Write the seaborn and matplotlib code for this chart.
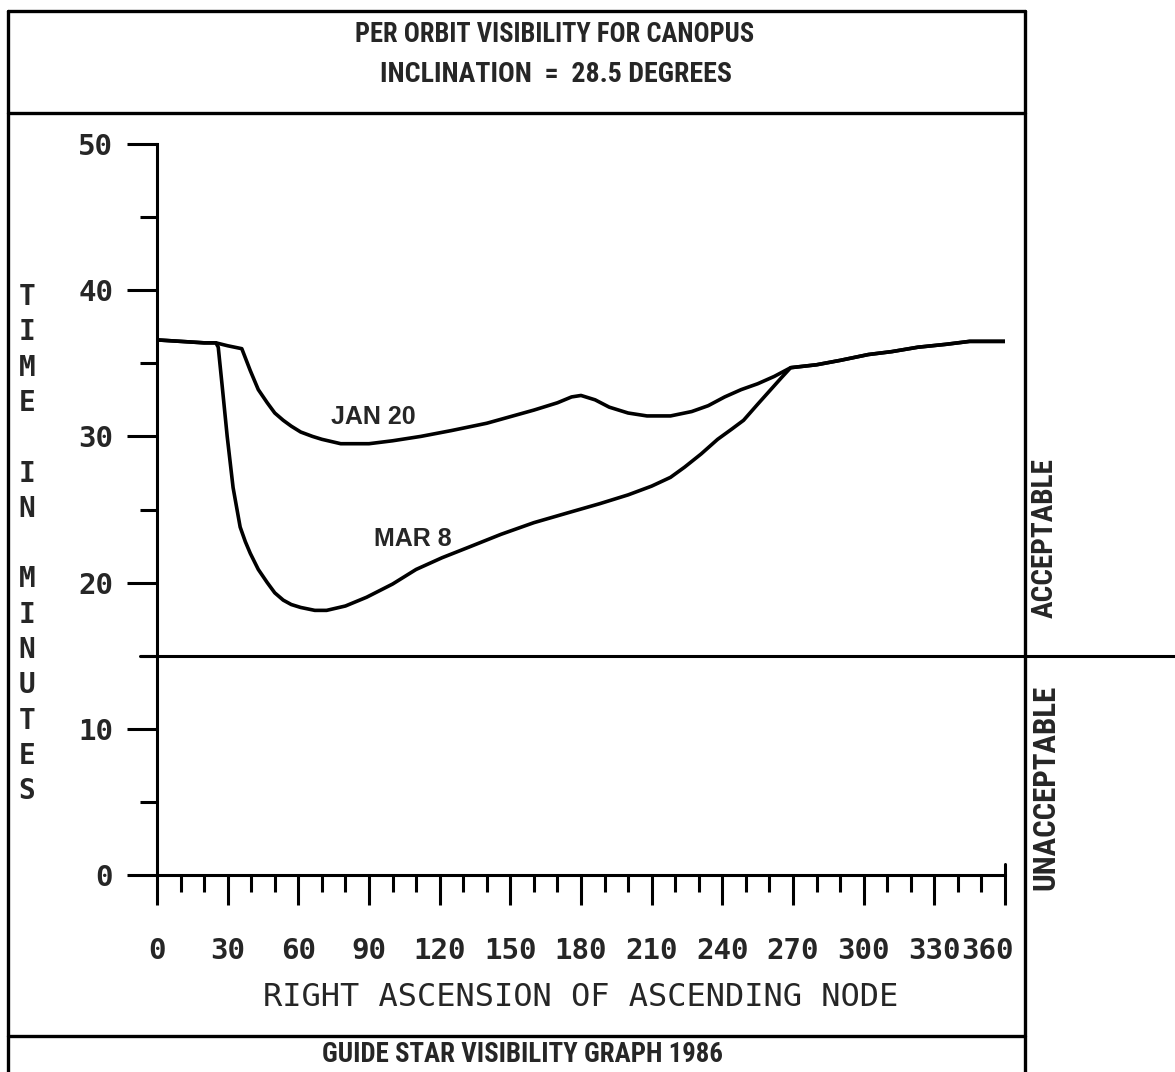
import matplotlib
matplotlib.use('Agg')
import matplotlib.pyplot as plt
import matplotlib.transforms as mtrans
from matplotlib import font_manager
from matplotlib.lines import Line2D
from matplotlib.ticker import MultipleLocator
import seaborn as sns
import pandas as pd

# Curve data (RA of ascending node in degrees, minutes visible)
ras_jan = [0, 10, 20, 25, 30, 36, 39.6, 43, 46.8, 50, 53.6, 57, 61, 66, 70, 78, 90, 100,
           112, 125, 140, 160, 170, 176, 180, 186, 192, 200, 208, 218, 227, 234, 241, 248,
           255, 262, 269, 280, 290, 302, 312, 323, 335, 345, 355, 360]
time_jan = [36.6, 36.5, 36.4, 36.4, 36.2, 36.0, 34.5, 33.2, 32.3, 31.6, 31.1, 30.7, 30.3,
            30.0, 29.8, 29.5, 29.5, 29.7, 30.0, 30.4, 30.9, 31.8, 32.3, 32.7, 32.8, 32.5,
            32.0, 31.6, 31.4, 31.4, 31.7, 32.1, 32.7, 33.2, 33.6, 34.1, 34.7, 34.9, 35.2,
            35.6, 35.8, 36.1, 36.3, 36.5, 36.5, 36.5]

ras_mar = [0, 10, 20, 25, 26, 27.7, 29.8, 32.3, 35.3, 37.5, 39.6, 43, 46.8, 50, 53.6, 57,
           61, 67, 72, 80, 89, 100, 110, 121, 132, 146, 160, 175, 188, 200, 210, 218, 224,
           231, 238, 244, 249, 255, 260, 265, 269, 280, 290, 302, 312, 323, 335, 345, 355,
           360]
time_mar = [36.6, 36.5, 36.4, 36.4, 36.1, 33.4, 30.0, 26.5, 23.8, 22.8, 22.0, 20.9, 20.0,
            19.3, 18.8, 18.5, 18.3, 18.1, 18.1, 18.4, 19.0, 19.9, 20.9, 21.7, 22.4, 23.3,
            24.1, 24.8, 25.4, 26.0, 26.6, 27.2, 27.9, 28.8, 29.8, 30.5, 31.1, 32.2, 33.1,
            34.0, 34.7, 34.9, 35.2, 35.6, 35.8, 36.1, 36.3, 36.5, 36.5, 36.5]

threshold = 15
xticks = list(range(0, 361, 30))
yticks = list(range(0, 51, 10))

df = pd.concat([
    pd.DataFrame({'ras': ras_jan, 'minutes': time_jan, 'date': 'JAN 20'}),
    pd.DataFrame({'ras': ras_mar, 'minutes': time_mar, 'date': 'MAR 8'}),
], ignore_index=True)

W, H, DPI = 1175, 1072, 100

sns.set_style('ticks')
plt.rcParams['font.family'] = ['DejaVu Sans']
mono = 'DejaVu Sans Mono'


def pick_condensed():
    fonts = font_manager.fontManager.ttflist
    for want in ['Liberation Sans Narrow', 'Roboto Condensed', 'Open Sans Condensed']:
        if any(f.name == want for f in fonts):
            return want, 'normal'
    for want in ['Noto Sans', 'Open Sans', 'DejaVu Sans']:
        for f in fonts:
            if f.name == want and f.stretch in ('condensed', 'semi-condensed') and f.weight in ('bold', 700):
                return want, f.stretch
    return 'Liberation Sans', 'normal'


head_font, head_stretch = pick_condensed()

fig = plt.figure(figsize=(W / DPI, H / DPI), dpi=DPI)
ax = fig.add_axes([157 / W, 1 - 875 / H, (1005 - 157) / W, (875 - 144) / H])

sns.lineplot(data=df, x='ras', y='minutes', units='date', estimator=None, sort=False,
             color='black', lw=2.6, legend=False, ax=ax)

ax.set_xlim(0, 360)
ax.set_ylim(0, 50)
ax.set_xticks(xticks)
ax.set_yticks(yticks)
ax.xaxis.set_minor_locator(MultipleLocator(10))
ax.yaxis.set_minor_locator(MultipleLocator(5))
ax.tick_params(which='major', length=21.6, width=2.2, color='black', direction='out')
ax.tick_params(which='minor', length=12, width=2.2, color='black', direction='out')
ax.tick_params(axis='x', which='major', pad=23)
ax.tick_params(axis='y', which='major', pad=10)
for side in ['top', 'right']:
    ax.spines[side].set_visible(False)
for side in ['left', 'bottom']:
    ax.spines[side].set_linewidth(2.2)
    ax.spines[side].set_color('black')
ax.grid(False)

for lbl in ax.get_xticklabels() + ax.get_yticklabels():
    lbl.set_fontfamily(mono)
    lbl.set_fontweight('bold')
    lbl.set_fontsize(21)
# the last label is pushed left into the frame on the original
last = ax.get_xticklabels()[-1]
last.set_transform(last.get_transform() + mtrans.ScaledTranslation(-13 / 72, 0, fig.dpi_scale_trans))

ax.set_xlabel('RIGHT ASCENSION OF ASCENDING NODE', fontfamily=mono, fontsize=23, labelpad=12)
ax.set_ylabel('')

# acceptability threshold and small closing tick at the end of the x axis
ax.axhline(threshold, xmin=-0.02, xmax=1.25, color='black', lw=2.2, clip_on=False)
ax.axvline(360, ymin=0, ymax=0.015, color='black', lw=2.2, clip_on=False)

ax.text(92, 31.3, 'JAN 20', ha='center', va='center', fontfamily='Liberation Sans',
        fontweight='bold', fontsize=18)
ax.text(108.5, 23.0, 'MAR 8', ha='center', va='center', fontfamily='Liberation Sans',
        fontweight='bold', fontsize=18)


def fx(px):
    return px / W


def fy(py):
    return 1 - py / H


# stacked y label
for i, ch in enumerate('TIME IN MINUTES'):
    if ch != ' ':
        fig.text(fx(27), fy(297 + i * 35.3), ch, ha='center', va='center',
                 fontfamily=mono, fontweight='bold', fontsize=20)

# frame around the chart
frame = [((8, 8), (11, 1072)), ((1025, 1025), (11, 1072)), ((8, 1025), (11, 11)),
         ((8, 1025), (113, 113)), ((8, 1025), (1036, 1036))]
for xs, ys in frame:
    fig.add_artist(Line2D([fx(v) for v in xs], [fy(v) for v in ys], color='black',
                          lw=2.4, transform=fig.transFigure))

# header / footer / side texts, sized to the span they take on the original
headers = [
    ('PER ORBIT VISIBILITY FOR CANOPUS', 555, 35, 400, 0),
    ('INCLINATION  =  28.5 DEGREES', 556, 75, 353, 0),
    ('GUIDE STAR VISIBILITY GRAPH 1986', 522, 1055, 400, 0),
    ('ACCEPTABLE', 1045, 538, 160, 90),
    ('UNACCEPTABLE', 1045, 787, 205, 90),
]
renderer = fig.canvas.get_renderer()
for s, px, py, span, rot in headers:
    t = fig.text(fx(px), fy(py), s, ha='center', va='center', rotation=rot,
                 fontfamily=head_font, fontstretch=head_stretch, fontweight='bold', fontsize=20)
    bb = t.get_window_extent(renderer)
    size = bb.height if rot else bb.width
    t.set_fontsize(20 * span / size)

fig.savefig('out.png', dpi=DPI, facecolor='white')
